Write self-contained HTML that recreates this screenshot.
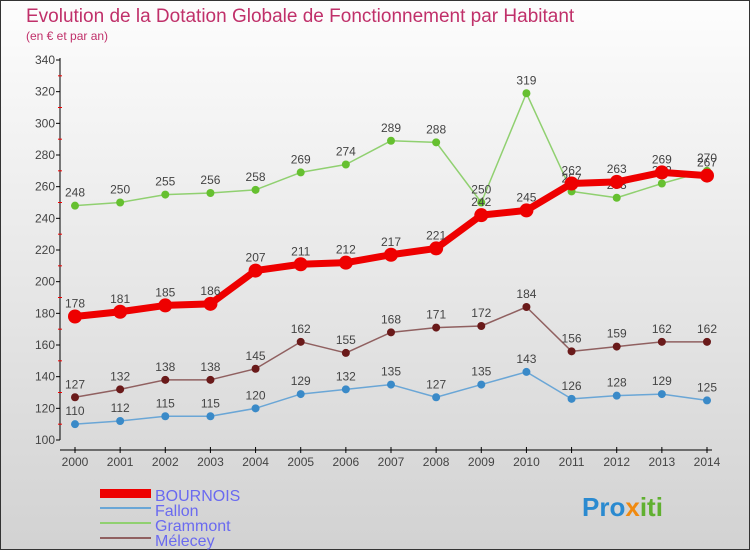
<!DOCTYPE html>
<html><head><meta charset="utf-8"><style>
body{margin:0}
svg text{font-family:"Liberation Sans",sans-serif}
</style></head><body>
<svg id="c" width="750" height="550" xmlns="http://www.w3.org/2000/svg">
<defs><linearGradient id="bg" x1="0" y1="0" x2="0" y2="1"><stop offset="0" stop-color="#fdfdfd"/><stop offset="1" stop-color="#d2d2d2"/></linearGradient></defs>
<rect x="0.5" y="0.5" width="749" height="549" fill="url(#bg)" stroke="#333"/>
<text x="26" y="22" font-size="19" fill="#c0306a">Evolution de la Dotation Globale de Fonctionnement par Habitant</text>
<text x="26" y="40" font-size="12" fill="#c0306a">(en € et par an)</text>
<g id="axes"></g><g id="series"></g>
<g>
<rect x="100" y="489" width="51" height="9" fill="#e00"/>
<text x="155" y="501" font-size="16" fill="#6a6af0">BOURNOIS</text>
<line x1="100" y1="508" x2="151" y2="508" stroke="#6aa6d6" stroke-width="2"/>
<text x="155" y="516" font-size="16" fill="#6a6af0">Fallon</text>
<line x1="100" y1="523" x2="151" y2="523" stroke="#90d070" stroke-width="2"/>
<text x="155" y="531" font-size="16" fill="#6a6af0">Grammont</text>
<line x1="100" y1="538" x2="151" y2="538" stroke="#906060" stroke-width="2"/>
<text x="155" y="546" font-size="16" fill="#6a6af0">Mélecey</text>
</g>
<text x="582" y="516" font-size="26" font-weight="bold" fill="#2a8ad0">Pro<tspan fill="#f08a10">x</tspan><tspan fill="#60b030">iti</tspan></text>
</svg>
<script>
const years=[2000,2001,2002,2003,2004,2005,2006,2007,2008,2009,2010,2011,2012,2013,2014];
const yTicks=[100,120,140,160,180,200,220,240,260,280,300,320,340];
const bournois=[178,181,185,186,207,211,212,217,221,242,245,262,263,269,267];
const fallon=[110,112,115,115,120,129,132,135,127,135,143,126,128,129,125];
const grammont=[248,250,255,256,258,269,274,289,288,250,319,257,253,262,270];
const melecey=[127,132,138,138,145,162,155,168,171,172,184,156,159,162,162];
const NS="http://www.w3.org/2000/svg";
const X=i=>75+i*(632/14), Y=v=>440-(v-100)*380/240;
function mk(t,a,p){const e=document.createElementNS(NS,t);for(const k in a)e.setAttribute(k,a[k]);p.appendChild(e);return e;}
const ax=document.getElementById('axes');
mk('line',{x1:60,y1:58,x2:60,y2:440,stroke:'#000'},ax);
mk('line',{x1:60,y1:450,x2:712,y2:450,stroke:'#000'},ax);
yTicks.forEach((v,k)=>{mk('line',{x1:56,y1:Y(v),x2:60,y2:Y(v),stroke:'#000'},ax);
 if(k<yTicks.length-1) mk('line',{x1:58,y1:Y(v+10),x2:62,y2:Y(v+10),stroke:'#e00'},ax);
 const t=mk('text',{x:55,y:Y(v)+4,'font-size':12,fill:'#444','text-anchor':'end'},ax);t.textContent=v;
 });
years.forEach((y,i)=>{mk('line',{x1:X(i),y1:447,x2:X(i),y2:453,stroke:'#000'},ax);
 const t=mk('text',{x:X(i),y:466,'font-size':12,fill:'#444','text-anchor':'middle'},ax);t.textContent=y;
 });
const sg=document.getElementById('series');
function draw(name,vals,col,dot,w,r){const g=mk('g',{},sg);
 
 mk('polyline',{points:vals.map((v,i)=>X(i)+','+Y(v)).join(' '),fill:'none',stroke:col,'stroke-width':w,'stroke-linejoin':'round'},g);
 vals.forEach((v,i)=>{const c=mk('circle',{cx:X(i),cy:Y(v),r:r,fill:dot},g);
  
  const t=mk('text',{x:X(i),y:Y(v)-9,'font-size':12,fill:'#444','text-anchor':'middle'},g);t.textContent=v;
  });}
draw('grammont',grammont,'#90d070','#66c030',1.5,4);
draw('fallon',fallon,'#6aa6d6','#3a8ac8',1.5,4);
draw('melecey',melecey,'#906060','#6a1a1a',1.5,4);
draw('bournois',bournois,'#e00','#e00',7,7);
</script>
</body></html>
